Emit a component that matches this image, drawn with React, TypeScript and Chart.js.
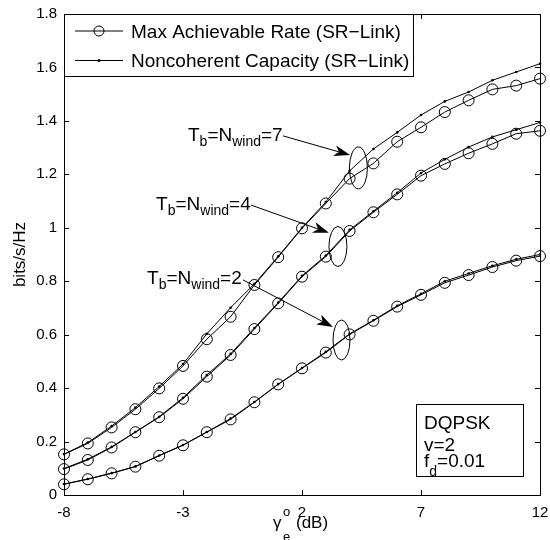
import React, { useEffect, useRef } from "react";
import { Chart, registerables } from "chart.js";

Chart.register(...registerables);

// ---------------- data ----------------
const snrDb = [-8, -7, -6, -5, -4, -3, -2, -1, 0, 1, 2, 3, 4, 5, 6, 7, 8, 9, 10, 11, 12];

const rateTb7 = [0.152, 0.193, 0.253, 0.321, 0.399, 0.483, 0.583, 0.667, 0.786, 0.890, 0.998, 1.091, 1.184, 1.241, 1.322, 1.376, 1.433, 1.477, 1.518, 1.532, 1.558];
const capTb7 = [0.153, 0.196, 0.258, 0.327, 0.406, 0.490, 0.603, 0.701, 0.790, 0.893, 1.000, 1.096, 1.213, 1.295, 1.357, 1.422, 1.473, 1.508, 1.552, 1.583, 1.614];

const rateTb4 = [0.097, 0.131, 0.178, 0.235, 0.291, 0.360, 0.443, 0.524, 0.621, 0.717, 0.817, 0.892, 0.988, 1.058, 1.125, 1.195, 1.239, 1.279, 1.314, 1.352, 1.363];
const capTb4 = [0.099, 0.134, 0.180, 0.236, 0.293, 0.364, 0.449, 0.528, 0.625, 0.720, 0.820, 0.896, 0.992, 1.062, 1.131, 1.205, 1.256, 1.302, 1.340, 1.367, 1.394];

const rateTb2 = [0.040, 0.059, 0.081, 0.106, 0.147, 0.186, 0.235, 0.283, 0.347, 0.414, 0.474, 0.533, 0.601, 0.652, 0.705, 0.749, 0.794, 0.823, 0.853, 0.877, 0.894];
const capTb2 = [0.041, 0.060, 0.082, 0.107, 0.148, 0.187, 0.236, 0.286, 0.348, 0.415, 0.475, 0.536, 0.603, 0.654, 0.708, 0.753, 0.800, 0.829, 0.858, 0.882, 0.900];

const xTicks = [-8, -3, 2, 7, 12];
const yTicks = [0, 0.2, 0.4, 0.6, 0.8, 1.0, 1.2, 1.4, 1.6, 1.8];
const yTickLabels = ["0", "0.2", "0.4", "0.6", "0.8", "1", "1.2", "1.4", "1.6", "1.8"];

const legendLabels = ["Max Achievable Rate (SR\u2212Link)", "Noncoherent Capacity (SR\u2212Link)"];
const windowSizes = ["7", "4", "2"];
const infoLines = ["DQPSK", "v=2", "f_d=0.01"];

// ---------------- layout (pixels / data anchors for annotations) ----------------
const FONT = '"Liberation Sans", Arial, Helvetica, sans-serif';

// annotation anchors in data coordinates: label left/baseline, arrow start, arrow tip, ellipse centre
const curveNotes = [
  { label: [-2.79, 1.325], from: [1.2, 1.344], to: [4.02, 1.272], ell: [4.37, 1.224], rx: 9, ry: 21 },
  { label: [-4.13, 1.067], from: [-0.14, 1.085], to: [3.13, 0.981], ell: [3.51, 0.93], rx: 9, ry: 20 },
  { label: [-4.51, 0.79], from: [-0.48, 0.805], to: [3.3, 0.629], ell: [3.66, 0.58], rx: 8.5, ry: 20 },
];

type Part = { t: string; sub?: boolean; sup?: boolean };

function drawRich(ctx: CanvasRenderingContext2D, x: number, y: number, parts: Part[], size: number, subSize: number, subDy: number) {
  let cx = x;
  for (const p of parts) {
    if (p.sub || p.sup) {
      ctx.font = `${subSize}px ${FONT}`;
      ctx.fillText(p.t, cx, y + (p.sub ? subDy : -subDy));
    } else {
      ctx.font = `${size}px ${FONT}`;
      ctx.fillText(p.t, cx, y);
    }
    cx += ctx.measureText(p.t).width;
  }
  return cx;
}

function drawArrow(ctx: CanvasRenderingContext2D, x1: number, y1: number, x2: number, y2: number) {
  const ang = Math.atan2(y2 - y1, x2 - x1);
  const dx = Math.cos(ang), dy = Math.sin(ang);
  const px = -dy, py = dx;
  const L = 16, W = 5.5, notch = 11;
  ctx.beginPath();
  ctx.moveTo(x1, y1);
  ctx.lineTo(x2 - dx * notch, y2 - dy * notch);
  ctx.stroke();
  ctx.beginPath();
  ctx.moveTo(x2, y2);
  ctx.lineTo(x2 - dx * L + px * W, y2 - dy * L + py * W);
  ctx.quadraticCurveTo(x2 - dx * (L - 4), y2 - dy * (L - 4), x2 - dx * notch, y2 - dy * notch);
  ctx.quadraticCurveTo(x2 - dx * (L - 4), y2 - dy * (L - 4), x2 - dx * L - px * W, y2 - dy * L - py * W);
  ctx.closePath();
  ctx.fill();
}

const decorPlugin = {
  id: "decor",
  afterDatasetsDraw(chart: any) {
    const ctx: CanvasRenderingContext2D = chart.ctx;
    const { left, right, top, bottom } = chart.chartArea;
    const xs = chart.scales.x;
    const ys = chart.scales.y;
    ctx.save();
    ctx.strokeStyle = "#000";
    ctx.fillStyle = "#000";
    ctx.lineWidth = 1;

    // axes box
    ctx.strokeRect(Math.round(left) + 0.5, Math.round(top) + 0.5, Math.round(right - left), Math.round(bottom - top));

    // inward ticks
    const tl = 5;
    ctx.beginPath();
    for (const v of xTicks) {
      const px = Math.round(xs.getPixelForValue(v)) + 0.5;
      ctx.moveTo(px, bottom);
      ctx.lineTo(px, bottom - tl);
      ctx.moveTo(px, top);
      ctx.lineTo(px, top + tl);
    }
    for (const v of yTicks) {
      const py = Math.round(ys.getPixelForValue(v)) + 0.5;
      ctx.moveTo(left, py);
      ctx.lineTo(left + tl, py);
      ctx.moveTo(right, py);
      ctx.lineTo(right - tl, py);
    }
    ctx.stroke();

    // legend box
    const lgL = Math.round(left) + 0.5, lgT = Math.round(top) + 0.5, lgR = 413.5, lgB = 76.5;
    ctx.fillStyle = "#fff";
    ctx.fillRect(lgL, lgT, lgR - lgL, lgB - lgT);
    ctx.fillStyle = "#000";
    ctx.strokeRect(lgL, lgT, lgR - lgL, lgB - lgT);
    const rows = [31, 60.5];
    ctx.textBaseline = "alphabetic";
    rows.forEach((ry, i) => {
      ctx.beginPath();
      ctx.moveTo(75, ry);
      ctx.lineTo(123, ry);
      ctx.stroke();
      ctx.beginPath();
      if (i === 0) {
        ctx.arc(99, ry, 5, 0, Math.PI * 2);
        ctx.stroke();
      } else {
        ctx.arc(99, ry, 1.5, 0, Math.PI * 2);
        ctx.fill();
      }
      ctx.font = `19px ${FONT}`;
      ctx.fillText(legendLabels[i], 131, ry + 6.5);
    });

    // curve annotations
    curveNotes.forEach((n, i) => {
      const lx = xs.getPixelForValue(n.label[0]);
      const ly = ys.getPixelForValue(n.label[1]);
      drawRich(ctx, lx, ly, [
        { t: "T" }, { t: "b", sub: true }, { t: "=N" }, { t: "wind", sub: true }, { t: "=" + windowSizes[i] },
      ], 19, 14, 5);
      drawArrow(ctx, xs.getPixelForValue(n.from[0]), ys.getPixelForValue(n.from[1]), xs.getPixelForValue(n.to[0]), ys.getPixelForValue(n.to[1]));
      ctx.beginPath();
      ctx.ellipse(xs.getPixelForValue(n.ell[0]), ys.getPixelForValue(n.ell[1]), n.rx, n.ry, 0, 0, Math.PI * 2);
      ctx.stroke();
    });

    // info box
    ctx.fillStyle = "#fff";
    ctx.fillRect(416.5, 404.5, 107, 72);
    ctx.fillStyle = "#000";
    ctx.strokeRect(416.5, 404.5, 107, 72);
    ctx.font = `19px ${FONT}`;
    ctx.fillText(infoLines[0], 424, 428.5);
    ctx.fillText(infoLines[1], 424, 451);
    const [fa, fb] = infoLines[2].split("_");
    drawRich(ctx, 424, 467, [{ t: fa }, { t: fb.slice(0, 1), sub: true }, { t: fb.slice(1) }], 19, 14, 9);

    // axis titles
    ctx.font = `17px ${FONT}`;
    ctx.fillText("\u03b3", 273, 528);
    ctx.font = `13px ${FONT}`;
    ctx.fillText("o", 283, 516);
    ctx.fillText("e", 283, 541);
    ctx.font = `17px ${FONT}`;
    ctx.fillText("(dB)", 296, 528);

    ctx.save();
    ctx.translate(25, (top + bottom) / 2);
    ctx.rotate(-Math.PI / 2);
    ctx.textAlign = "center";
    ctx.font = `17px ${FONT}`;
    ctx.fillText("bits/s/Hz", 0, 0);
    ctx.restore();

    ctx.restore();
  },
};

function series(vals: number[]) {
  return snrDb.map((x, i) => ({ x, y: vals[i] }));
}

export default function App() {
  const ref = useRef<HTMLCanvasElement | null>(null);

  useEffect(() => {
    if (!ref.current) return;
    const rateStyle = {
      borderColor: "#000",
      borderWidth: 1,
      pointStyle: "circle",
      pointRadius: 5.5,
      pointBorderWidth: 1,
      pointBorderColor: "#000",
      pointBackgroundColor: "rgba(0,0,0,0)",
      fill: false,
      tension: 0,
      clip: false as any,
    };
    const capStyle = {
      borderColor: "#000",
      borderWidth: 1,
      pointStyle: "circle",
      pointRadius: 1.3,
      pointBorderWidth: 0,
      pointBackgroundColor: "#000",
      fill: false,
      tension: 0,
      clip: false as any,
    };
    const chart = new Chart(ref.current, {
      type: "line",
      data: {
        datasets: [
          { label: legendLabels[0] + " 7", data: series(rateTb7), ...rateStyle },
          { label: legendLabels[1] + " 7", data: series(capTb7), ...capStyle },
          { label: legendLabels[0] + " 4", data: series(rateTb4), ...rateStyle },
          { label: legendLabels[1] + " 4", data: series(capTb4), ...capStyle },
          { label: legendLabels[0] + " 2", data: series(rateTb2), ...rateStyle },
          { label: legendLabels[1] + " 2", data: series(capTb2), ...capStyle },
        ] as any,
      },
      options: {
        responsive: false,
        animation: false,
        layout: { padding: { left: 0, right: 10, top: 14, bottom: 0 } },
        plugins: { legend: { display: false }, tooltip: { enabled: false }, title: { display: false } },
        scales: {
          x: {
            type: "linear",
            min: -8,
            max: 12,
            grid: { display: false, drawTicks: false },
            border: { display: false },
            afterFit: (s: any) => { s.height = 45; s.paddingLeft = 0; s.paddingRight = 0; },
            afterBuildTicks: (s: any) => { s.ticks = xTicks.map((v) => ({ value: v })); },
            ticks: { color: "#000", font: { family: FONT, size: 15 }, padding: 9 },
          },
          y: {
            type: "linear",
            min: 0,
            max: 1.8,
            grid: { display: false, drawTicks: false },
            border: { display: false },
            afterFit: (s: any) => { s.width = 64; s.paddingTop = 0; s.paddingBottom = 0; },
            afterBuildTicks: (s: any) => { s.ticks = yTicks.map((v) => ({ value: v })); },
            ticks: {
              color: "#000",
              font: { family: FONT, size: 15 },
              padding: 7,
              callback: (v: any) => {
                const i = yTicks.findIndex((t) => Math.abs(t - Number(v)) < 1e-6);
                return i >= 0 ? yTickLabels[i] : "";
              },
            },
          },
        },
      },
      plugins: [decorPlugin],
    });
    return () => chart.destroy();
  }, []);

  return (
    <div style={{ position: "absolute", left: 0, top: 0, width: 550, height: 540, background: "#fff" }}>
      <canvas ref={ref} width={550} height={540} style={{ display: "block" }} />
    </div>
  );
}
